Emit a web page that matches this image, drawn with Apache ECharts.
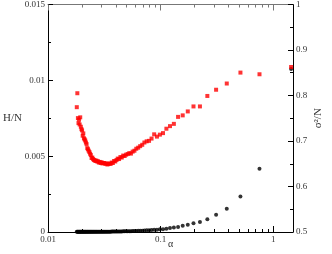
<!DOCTYPE html>
<html><head><meta charset="utf-8">
<script src="https://cdn.jsdelivr.net/npm/echarts@6/dist/echarts.min.js"></script>
<style>html,body{margin:0;padding:0;background:#fff}#c{width:332px;height:254px}</style>
</head><body><div id="c"></div>
<script>
// alpha values (x)
var alpha = [
 1.443, 0.7559, 0.5120, 0.3871, 0.3112, 0.2602, 0.2236, 0.1960, 0.1744, 0.1572,
 0.1430, 0.1312, 0.1212, 0.1126, 0.1051, 0.09859, 0.09283, 0.08770, 0.08311, 0.07897,
 0.07523, 0.07182, 0.06871, 0.06586, 0.06324, 0.06082, 0.05857, 0.05649, 0.05455, 0.05273,
 0.05104, 0.04945, 0.04795, 0.04655, 0.04522, 0.04397, 0.04278, 0.04166, 0.04060, 0.03958,
 0.03862, 0.03770, 0.03683, 0.03599, 0.03520, 0.03443, 0.03370, 0.03300, 0.03233, 0.03168,
 0.03106, 0.03047, 0.02989, 0.02934, 0.02881, 0.02829, 0.02780, 0.02732, 0.02686, 0.02641,
 0.02598, 0.02556, 0.02516, 0.02476, 0.02438, 0.02401, 0.02366, 0.02331, 0.02297, 0.02264,
 0.02233, 0.02202, 0.02171, 0.02142, 0.02114, 0.02086, 0.02059, 0.02032, 0.02007, 0.01982,
 0.01957, 0.01933, 0.01910, 0.01887, 0.01865, 0.01844, 0.01822, 0.01802
];
// H/N (left axis, red squares)
var hN = [
 0.01088, 0.01040, 0.01051, 0.00979, 0.00938, 0.00897, 0.00828, 0.00828, 0.00795, 0.00769,
 0.00759, 0.00713, 0.00698, 0.00681, 0.00652, 0.00642, 0.00629, 0.00644, 0.00616, 0.00601,
 0.00598, 0.00590, 0.00575, 0.00566, 0.00556, 0.00549, 0.00536, 0.00530, 0.00517, 0.00520,
 0.00514, 0.00510, 0.00501, 0.00504, 0.00491, 0.00494, 0.00481, 0.00484, 0.00475, 0.00465,
 0.00468, 0.00455, 0.00458, 0.00449, 0.00452, 0.00449, 0.00445, 0.00452, 0.00449, 0.00455,
 0.00455, 0.00452, 0.00460, 0.00455, 0.00462, 0.00458, 0.00466, 0.00465, 0.00471, 0.00468,
 0.00473, 0.00475, 0.00481, 0.00491, 0.00488, 0.00507, 0.00516, 0.00527, 0.00536, 0.00546,
 0.00553, 0.00579, 0.00590, 0.00603, 0.00611, 0.00618, 0.00650, 0.00635, 0.00670, 0.00678,
 0.00694, 0.00756, 0.00709, 0.00741, 0.00718, 0.00751, 0.00915, 0.00823
];
// sigma^2/N (right axis, black circles)
var sigma2N = [
 0.858, 0.639, 0.578, 0.551, 0.538, 0.528, 0.522, 0.519, 0.516, 0.514,
 0.511, 0.510, 0.509, 0.507, 0.506, 0.5058, 0.5052, 0.5047, 0.5043, 0.5039,
 0.5036, 0.5033, 0.5030, 0.5028, 0.5026, 0.5024, 0.5022, 0.5021, 0.5019, 0.5018,
 0.5017, 0.5016, 0.5015, 0.5014, 0.5013, 0.5013, 0.5012, 0.5011, 0.5011, 0.5010,
 0.5010, 0.5009, 0.5009, 0.5008, 0.5008, 0.5008, 0.5007, 0.5007, 0.5007, 0.5006,
 0.5006, 0.5006, 0.5006, 0.5006, 0.5005, 0.5005, 0.5005, 0.5005, 0.5005, 0.5005,
 0.5005, 0.5004, 0.5004, 0.5004, 0.5004, 0.5004, 0.5004, 0.5004, 0.5004, 0.5003,
 0.5003, 0.5003, 0.5003, 0.5003, 0.5003, 0.5003, 0.5003, 0.5003, 0.5003, 0.5003,
 0.5003, 0.5003, 0.5003, 0.5003, 0.5003, 0.5003, 0.5003, 0.5003
];
var xMajor = [0.01, 0.1, 1];
var xMinor = [0.02, 0.03, 0.04, 0.05, 0.06, 0.07, 0.08, 0.09, 0.2, 0.3, 0.4, 0.5, 0.6, 0.7, 0.8, 0.9];
var xLabels = ['0.01', '0.1', '1'];

var SERIF = 'Liberation Serif';
var TXT = '#333';
function xAx(pos, ticks, len, showLine, lineColor, labels) {
  var a = {
    type: 'log', logBase: 10, min: 0.01, max: 1.5, position: pos,
    splitLine: {show: false},
    axisLine: {show: showLine, onZero: false, lineStyle: {color: lineColor, width: 1}},
    axisTick: {show: true, inside: true, length: len, customValues: ticks, lineStyle: {color: lineColor}},
    axisLabel: {show: false}
  };
  if (labels) {
    a.axisLabel = {show: true, customValues: xMajor, margin: 3, fontFamily: SERIF, fontSize: 9, color: TXT,
      formatter: function (v) { var i = xMajor.indexOf(v); return i >= 0 ? xLabels[i] : String(v); }};
    a.name = 'α'; a.nameLocation = 'middle'; a.nameGap = 7; a.nameMoveOverlap = false;
    a.nameTextStyle = {fontFamily: SERIF, fontSize: 10, color: TXT};
  }
  return a;
}
var chart = echarts.init(document.getElementById('c'), null, {renderer: 'canvas'});
chart.setOption({
  animation: false,
  backgroundColor: '#fff',
  grid: {left: 48, right: 33, top: 4, bottom: 19, containLabel: false},
  xAxis: [
    xAx('bottom', xMajor, 6, true, '#000', true),
    xAx('bottom', xMinor, 3, false, '#000', false),
    xAx('top', xMajor, 6, true, '#777', false),
    xAx('top', xMinor, 3, false, '#777', false)
  ],
  yAxis: [
    {type: 'value', position: 'left', min: 0, max: 0.015, interval: 0.005,
     splitLine: {show: false},
     axisLine: {show: true, onZero: false, lineStyle: {color: '#000'}},
     axisTick: {show: true, inside: true, length: 5, lineStyle: {color: '#000'}},
     minorTick: {show: true, splitNumber: 2, length: 3, lineStyle: {color: '#000'}},
     axisLabel: {margin: 3, fontFamily: SERIF, fontSize: 9, color: TXT,
       formatter: function (v) { return String(+v.toFixed(4)); }},
     name: 'H/N', nameLocation: 'middle', nameRotate: 0, nameGap: 26, nameMoveOverlap: false,
     nameTextStyle: {fontFamily: SERIF, fontSize: 11, color: TXT}},
    {type: 'value', position: 'right', min: 0.5, max: 1, interval: 0.1,
     splitLine: {show: false},
     axisLine: {show: true, onZero: false, lineStyle: {color: '#000'}},
     axisTick: {show: true, inside: true, length: 5, lineStyle: {color: '#000'}},
     minorTick: {show: true, splitNumber: 2, length: 3, lineStyle: {color: '#000'}},
     axisLabel: {margin: 3, fontFamily: SERIF, fontSize: 9, color: TXT,
       formatter: function (v) { return String(+v.toFixed(2)); }},
     name: 'σ²/N', nameLocation: 'middle', nameRotate: 90, nameGap: 20, nameMoveOverlap: false,
     nameTextStyle: {fontFamily: SERIF, fontSize: 11, color: TXT}}
  ],
  series: [
    {type: 'scatter', xAxisIndex: 0, yAxisIndex: 1, symbol: 'circle', symbolSize: 4,
     itemStyle: {color: '#000'},
     data: alpha.map(function (a, i) { return [a, sigma2N[i]]; })},
    {type: 'scatter', xAxisIndex: 0, yAxisIndex: 0, symbol: 'rect', symbolSize: 4,
     itemStyle: {color: '#ff0000'},
     data: alpha.map(function (a, i) { return [a, hN[i]]; })}
  ]
});
</script></body></html>
